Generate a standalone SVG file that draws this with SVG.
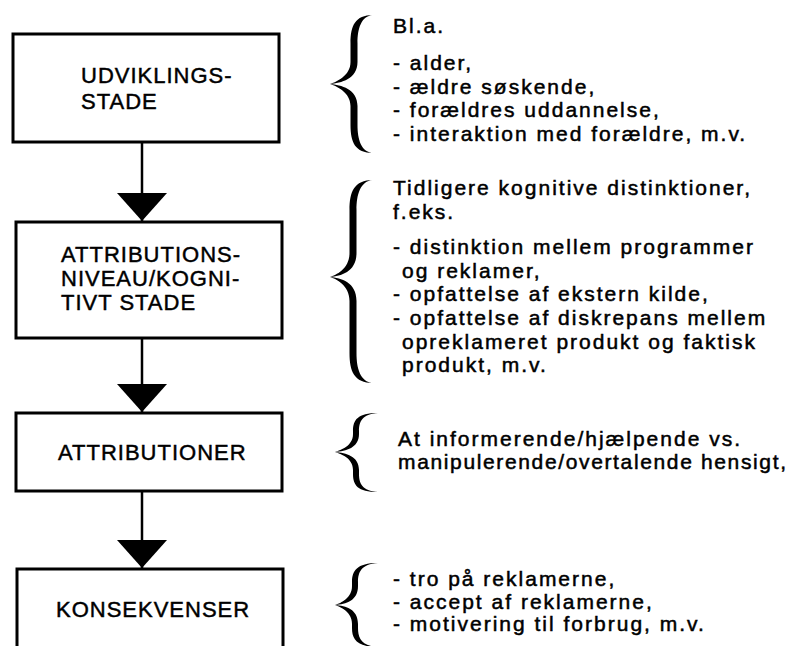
<svg xmlns="http://www.w3.org/2000/svg" width="794" height="646" viewBox="0 0 794 646">
<defs>
<style>
.box{fill:#fff;stroke:#000;stroke-width:3}
.bt{font-family:"Liberation Sans",Arial,sans-serif;font-size:22px;letter-spacing:1px;fill:#000;stroke:#000;stroke-width:0.45}
.rt{font-family:"Liberation Sans",Arial,sans-serif;font-size:21px;letter-spacing:2px;fill:#000;stroke:#000;stroke-width:0.5}
.conn{stroke:#000;stroke-width:2.5;fill:none}
.brace{fill:#000}
</style>
<marker id="ah" markerUnits="userSpaceOnUse" markerWidth="28" markerHeight="50" viewBox="0 0 28 50" refX="28" refY="25" orient="auto"><path d="M0,0 L28,25 L0,50 Z" fill="#000"/></marker>
</defs>
<rect width="794" height="646" fill="#fff"/>
<g id="node-udviklingsstade">
<rect class="box" x="13" y="34" width="266" height="108"/>
<text class="bt" x="81" y="83">UDVIKLINGS-</text>
<text class="bt" x="81" y="109">STADE</text>
</g>
<g id="node-attributionsniveau">
<rect class="box" x="16" y="222" width="266" height="116"/>
<text class="bt" x="61" y="262">ATTRIBUTIONS-</text>
<text class="bt" x="61" y="286">NIVEAU/KOGNI-</text>
<text class="bt" x="61" y="310">TIVT STADE</text>
</g>
<g id="node-attributioner">
<rect class="box" x="16" y="413" width="266" height="78"/>
<text class="bt" x="58" y="460">ATTRIBUTIONER</text>
</g>
<g id="node-konsekvenser">
<rect class="box" x="17" y="569" width="266" height="100"/>
<text class="bt" x="56" y="617">KONSEKVENSER</text>
</g>
<g id="connectors">
<path class="conn" d="M142,143 L142,221" marker-end="url(#ah)"/>
<path class="conn" d="M142,339 L142,412" marker-end="url(#ah)"/>
<path class="conn" d="M142,492 L142,568" marker-end="url(#ah)"/>
</g>
<g id="note-udvikling">
<path class="brace" d="M373,15 C355,15 350.5,26 350.5,43 L350.5,62 C350.5,76 336,82 330,84 C336,86 350.5,92 350.5,106 L350.5,125 C350.5,142 355,153 373,153 C361,152 357.5,139 357.5,125 L357.5,106 C357.5,89 341,85 330,84 C341,83 357.5,79 357.5,62 L357.5,43 C357.5,29 361,16 373,15 Z"/>
<text class="rt" x="393" y="33">Bl.a.</text>
<text class="rt" x="393" y="70">- alder,</text>
<text class="rt" x="393" y="93.5">- ældre søskende,</text>
<text class="rt" x="393" y="117">- forældres uddannelse,</text>
<text class="rt" x="393" y="140.5">- interaktion med forældre, m.v.</text>
</g>
<g id="note-attributionsniveau">
<path class="brace" d="M373,180 C354,180 349.5,192 349.5,210 L349.5,253 C349.5,269 336,275 330,277 C336,279 349.5,285 349.5,301 L349.5,353 C349.5,371 354,383 373,383 C360,382 356.5,368 356.5,353 L356.5,301 C356.5,282 341,278 330,277 C341,276 356.5,272 356.5,253 L356.5,210 C356.5,195 360,181 373,180 Z"/>
<text class="rt" x="393" y="195">Tidligere kognitive distinktioner,</text>
<text class="rt" x="393" y="218.5">f.eks.</text>
<text class="rt" x="393" y="254">- distinktion mellem programmer</text>
<text class="rt" x="402" y="277.5">og reklamer,</text>
<text class="rt" x="393" y="301">- opfattelse af ekstern kilde,</text>
<text class="rt" x="393" y="325">- opfattelse af diskrepans mellem</text>
<text class="rt" x="402" y="348.5">opreklameret produkt og faktisk</text>
<text class="rt" x="402" y="372">produkt, m.v.</text>
</g>
<g id="note-attributioner">
<path class="brace" d="M378,413 C357.5,413 353,420 353,431 L353,434 C353,446 341,450 335,452 C341,454 353,458 353,470 L353,474 C353,485 357.5,492 378,492 C362,491 359,483 359,474 L359,470 C359,456 346,453 335,452 C346,451 359,448 359,434 L359,431 C359,422 362,414 378,413 Z"/>
<text class="rt" x="398" y="446">At informerende/hjælpende vs.</text>
<text class="rt" x="398" y="469" textLength="390" lengthAdjust="spacing">manipulerende/overtalende hensigt,</text>
</g>
<g id="note-konsekvenser">
<path class="brace" d="M378,563 C356.5,563 352,571 352,582 L352,586 C352,598 341,603 335,605 C341,607 352,612 352,624 L352,628 C352,639 356.5,647 378,647 C361,646 358,637.5 358,628 L358,624 C358,609 346,606 335,605 C346,604 358,601 358,586 L358,582 C358,572.5 361,564 378,563 Z"/>
<text class="rt" x="393" y="586">- tro på reklamerne,</text>
<text class="rt" x="393" y="608.5">- accept af reklamerne,</text>
<text class="rt" x="393" y="631">- motivering til forbrug, m.v.</text>
</g>
</svg>
